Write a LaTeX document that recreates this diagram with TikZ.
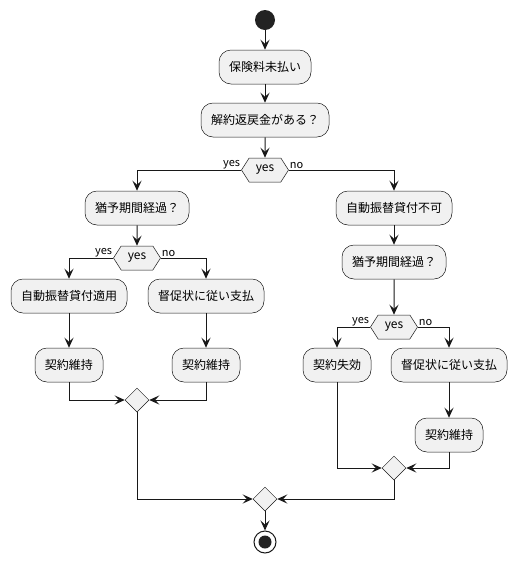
\documentclass[tikz,border=0pt]{standalone}
\usepackage{fontspec}
\setmainfont{Noto Sans CJK JP}
\usetikzlibrary{positioning, arrows.meta, shapes.geometric, shapes.symbols}
\definecolor{umlline}{HTML}{181818}
\definecolor{umlfill}{HTML}{F1F1F1}
\definecolor{umldot}{HTML}{222222}
\tikzset{
  act/.style     = {rectangle, rounded corners=12pt, draw=umlline, line width=0.5pt,
                    fill=umlfill, align=center, minimum height=34pt,
                    inner xsep=10pt, font=\fontsize{12}{14}\selectfont},
  cond/.style    = {signal, signal to=west and east, signal pointer angle=115,
                    draw=umlline, line width=0.5pt, fill=umlfill, inner sep=1pt,
                    minimum height=24pt, minimum width=47pt,
                    font=\fontsize{12}{14}\selectfont},
  mergept/.style = {diamond, draw=umlline, line width=0.5pt, fill=umlfill,
                    inner sep=0pt, minimum width=24pt, minimum height=24pt},
  lab/.style     = {font=\fontsize{11}{13}\selectfont, inner sep=1pt},
  flow/.style    = {line width=1pt, draw=umlline,
                    -{Stealth[length=10pt, width=9pt, inset=4pt]}},
}
\begin{document}
\begin{tikzpicture}[x=1pt, y=-1pt]
\useasboundingbox (0,0) rectangle (517,563);

% Main trunk
\node (start) [circle, fill=umldot, minimum size=20pt, inner sep=0pt] at (265,20) {};
\node (unpaid) [act] at (265,67) {保険料未払い};
\node (refund) [act] at (265,120) {解約返戻金がある？};
\node (dec1) [cond] at (265,170) {yes};

% Left branch: refund available
\node (grace1) [act] at (137,208) {猶予期間経過？};
\node (dec2) [cond] at (137,258) {yes};
\node (autoloan) [act] at (69,296) {自動振替貸付適用};
\node (pay1) [act] at (206,296) {督促状に従い支払};
\node (keep1) [act] at (69,365) {契約維持};
\node (keep2) [act] at (206,365) {契約維持};
\node (merge1) [mergept] at (137,400) {};

% Right branch: no refund
\node (noloan) [act] at (394,208) {自動振替貸付不可};
\node (grace2) [act] at (394,262) {猶予期間経過？};
\node (dec3) [cond] at (394,327) {yes};
\node (lapse) [act] at (337,365) {契約失効};
\node (pay2) [act] at (449,365) {督促状に従い支払};
\node (keep3) [act] at (449,435) {契約維持};
\node (merge3) [mergept] at (394,468) {};

% End
\node (mergeall) [mergept] at (265,499) {};
\node (stop) [circle, draw=umlline, line width=1pt, fill=white, minimum size=22pt,
  inner sep=0pt, path picture={\fill[umldot] (path picture bounding box.center) circle (6.5pt);}]
  at (265,542) {};

\draw [flow] (start) -- (unpaid);
\draw [flow] (unpaid) -- (refund);
\draw [flow] (refund) -- (dec1);
\draw [flow] (dec1.west) -| (grace1.north);
\draw [flow] (dec1.east) -| (noloan.north);
\node [lab, anchor=south east] at (dec1.west) {yes};
\node [lab, anchor=south west] at (dec1.east) {no};

\draw [flow] (grace1) -- (dec2);
\draw [flow] (dec2.west) -| (autoloan.north);
\draw [flow] (dec2.east) -| (pay1.north);
\node [lab, anchor=south east] at (dec2.west) {yes};
\node [lab, anchor=south west] at (dec2.east) {no};
\draw [flow] (autoloan) -- (keep1);
\draw [flow] (pay1) -- (keep2);
\draw [flow] (keep1.south) |- (merge1.west);
\draw [flow] (keep2.south) |- (merge1.east);

\draw [flow] (noloan) -- (grace2);
\draw [flow] (grace2) -- (dec3);
\draw [flow] (dec3.west) -| (lapse.north);
\draw [flow] (dec3.east) -| (pay2.north);
\node [lab, anchor=south east] at (dec3.west) {yes};
\node [lab, anchor=south west] at (dec3.east) {no};
\draw [flow] (pay2) -- (keep3);
\draw [flow] (lapse.south) |- (merge3.west);
\draw [flow] (keep3.south) |- (merge3.east);

\draw [flow] (merge1.south) |- (mergeall.west);
\draw [flow] (merge3.south) |- (mergeall.east);
\draw [flow] (mergeall) -- (stop);

\end{tikzpicture}
\end{document}
